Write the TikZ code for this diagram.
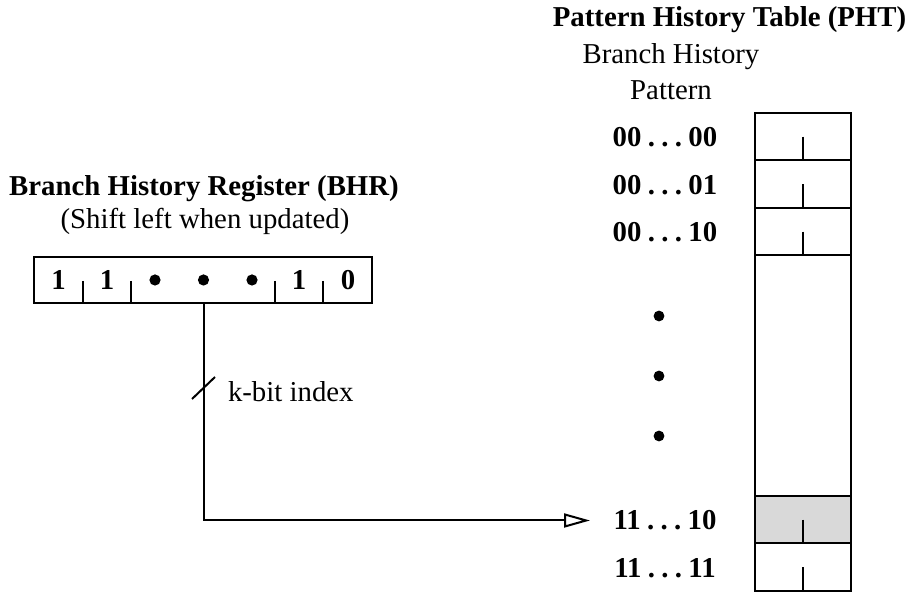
\documentclass[tikz,border=0pt]{standalone}
\usepackage{fontspec}
\setmainfont{Liberation Serif}
\usetikzlibrary{arrows.meta}

\begin{document}
\begin{tikzpicture}[x=0.5pt, y=-0.5pt, line width=1pt,
    txt/.style = {font=\fontsize{14.4}{17}\selectfont, inner sep=0pt},
    boldtxt/.style = {font=\fontsize{14.4}{17}\selectfont\bfseries, inner sep=0pt}]
  \def\bhrbox{(34,257) rectangle (372,303)}
  \def\phtbox{(755,113) rectangle (851,591)}
  \def\hitrow{(755,496) rectangle (851,543.5)}
  \def\gap{\hspace{0.22em}}

  \useasboundingbox (0,0) rectangle (912,592);

  % branch history register
  \node[boldtxt, anchor=base] (bhrtitle) at (204,196) {Branch History Register (BHR)};
  \node[txt, anchor=base] (bhrnote) at (205,229) {(Shift left when updated)};
  \draw \bhrbox;
  \foreach \x in {82.5,131,275,323}
    \draw (\x,281) -- (\x,303);
  \node[boldtxt] (bit1) at (58.5,280) {1};
  \node[boldtxt] (bit2) at (107,280) {1};
  \node[boldtxt] (bit3) at (299,280) {1};
  \node[boldtxt] (bit4) at (348,280) {0};
  \foreach \x in {155,203.5,252}
    \fill (\x,280) circle[radius=2.8pt];

  % pattern history table
  \node[boldtxt, anchor=base] (phttitle) at (729.5,27) {Pattern History Table (PHT)};
  \node[txt, anchor=base] (phtsub) at (671,64) {Branch History};
  \node[txt, anchor=base] (phtsubb) at (671,100) {Pattern};
  \fill[gray!30] \hitrow;
  \draw \phtbox;
  \foreach \y in {160.5,208,255.5,496,543.5}
    \draw (755,\y) -- (851,\y);
  \foreach \t/\b in {113/160.5,160.5/208,208/255.5,496/543.5,543.5/591}
    \draw (803,{(\t+\b)/2}) -- (803,\b);
  \node[boldtxt] (row0) at (665,137.5) {00\gap.\gap.\gap.\gap00};
  \node[boldtxt] (row1) at (665,185) {00\gap.\gap.\gap.\gap01};
  \node[boldtxt] (row2) at (665,232.5) {00\gap.\gap.\gap.\gap10};
  \node[boldtxt] (rowm) at (665,520.5) {11\gap.\gap.\gap.\gap10};
  \node[boldtxt] (rown) at (665,568) {11\gap.\gap.\gap.\gap11};
  \foreach \y in {316,376,436}
    \fill (659,\y) circle[radius=2.7pt];

  % index path
  \coordinate (bhrout) at (203.5,303);
  \coordinate (phtin) at (590,520.5);
  \draw[-{Triangle[open,length=13pt,width=7pt]}] (bhrout) |- (phtin);
  \draw (192,399) -- (215,377);
  \node[txt, anchor=west] (idx) at (227,392) {k-bit index};
\end{tikzpicture}
\end{document}
